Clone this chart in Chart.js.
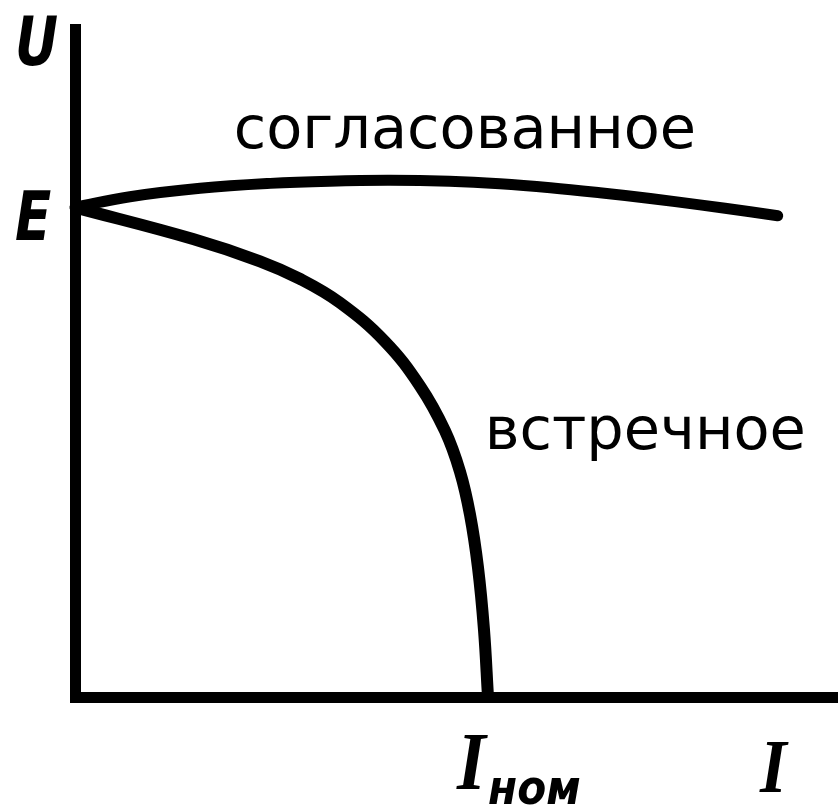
<!DOCTYPE html>
<html>
<head>
<meta charset="utf-8">
<script src="https://cdn.jsdelivr.net/npm/chart.js@4/dist/chart.umd.min.js"></script>
<style>
html,body{margin:0;padding:0;background:#fff;}
canvas{display:block;}
</style>
</head>
<body>
<canvas id="c" width="838" height="808"></canvas>
<script>
// Characteristic curves U(I) of a compound-excited DC generator
const E_VALUE = 7.33;           // no-load EMF (U at I = 0)
const I_NOM = 5.413;            // current where the "встречное" curve reaches zero
const I_AXIS_LABEL_AT = 9.2;    // where the "I" axis label sits

const seriesNames = ['согласованное', 'встречное'];

// согласованное (cumulative) — current values and voltage values
const cumulativeI = [0, 0.72, 1.64, 2.56, 3.34, 4.13, 4.91, 5.57, 6.23, 6.88, 7.54, 8.19, 8.85, 9.21];
const cumulativeU = [7.33, 7.489, 7.615, 7.689, 7.722, 7.734, 7.719, 7.682, 7.623, 7.548, 7.462, 7.367, 7.264, 7.204];

// встречное (differential) — current values and voltage values
const differentialI = [0, 1.547, 2.425, 2.949, 3.473, 4.063, 4.522, 4.849, 5.046, 5.177, 5.282, 5.360, 5.413];
const differentialU = [7.33, 6.856, 6.523, 6.259, 5.902, 5.321, 4.655, 3.985, 3.373, 2.730, 1.935, 1.010, 0];

const toPts = (xs, ys) => xs.map((x, i) => ({x: x, y: ys[i]}));

const labelsPlugin = {
  id: 'labels',
  afterDraw(chart) {
    const ctx = chart.ctx;
    const xs = chart.scales.x, ys = chart.scales.y;
    const left = chart.chartArea.left, top = chart.chartArea.top, bottom = chart.chartArea.bottom;
    ctx.save();
    ctx.fillStyle = '#000';
    ctx.textBaseline = 'alphabetic';

    // Curve names
    ctx.font = '59px "DejaVu Sans"';
    ctx.textAlign = 'left';
    ctx.fillText(seriesNames[0], xs.getPixelForValue(2.08), ys.getPixelForValue(8.22));
    ctx.fillText(seriesNames[1], xs.getPixelForValue(5.37), ys.getPixelForValue(3.72));

    function condensed(text, x, y, font, sx) {
      ctx.save();
      ctx.font = font;
      ctx.translate(x, y);
      ctx.scale(sx, 1);
      ctx.fillText(text, 0, 0);
      ctx.restore();
    }
    const sansBI = 'italic bold 68px "DejaVu Sans"';
    const serifBI = 'italic bold 76px "Liberation Serif"';

    // U (axis label)
    condensed('U', left - 60, top + 36, sansBI, 0.78);
    // E (tick at E value)
    condensed('E', left - 60, ys.getPixelForValue(E_VALUE) + 33, sansBI, 0.78);
    // I_ном
    const xn = xs.getPixelForValue(I_NOM);
    condensed('I', xn - 31, bottom + 92, 'italic bold 82px "Liberation Serif"', 0.9);
    condensed('ном', xn, bottom + 107, 'italic bold 48px "DejaVu Sans"', 0.88);
    // I (axis label)
    condensed('I', xs.getPixelForValue(I_AXIS_LABEL_AT) - 17, bottom + 95, serifBI, 0.9);
    ctx.restore();
  }
};

new Chart(document.getElementById('c'), {
  type: 'line',
  data: {
    datasets: [
      {
        label: seriesNames[0],
        data: toPts(cumulativeI, cumulativeU),
        borderColor: '#000',
        borderWidth: 11,
        pointRadius: 0,
        tension: 0.4,
        fill: false,
        borderCapStyle: 'round',
        borderJoinStyle: 'round',
        clip: false
      },
      {
        label: seriesNames[1],
        data: toPts(differentialI, differentialU),
        borderColor: '#000',
        borderWidth: 12,
        pointRadius: 0,
        tension: 0.4,
        fill: false,
        borderCapStyle: 'butt',
        borderJoinStyle: 'round',
        clip: false
      }
    ]
  },
  options: {
    responsive: false,
    devicePixelRatio: 1,
    animation: false,
    layout: {padding: {left: 75, top: 29, right: 0, bottom: 111}},
    plugins: {legend: {display: false}, tooltip: {enabled: false}},
    scales: {
      x: {
        type: 'linear', min: 0, max: 10,
        ticks: {display: false},
        grid: {display: false, drawTicks: false},
        border: {display: true, color: '#000', width: 11}
      },
      y: {
        type: 'linear', min: 0, max: 10,
        ticks: {display: false},
        grid: {display: false, drawTicks: false},
        border: {display: true, color: '#000', width: 11}
      }
    }
  },
  plugins: [labelsPlugin]
});
</script>
</body>
</html>
